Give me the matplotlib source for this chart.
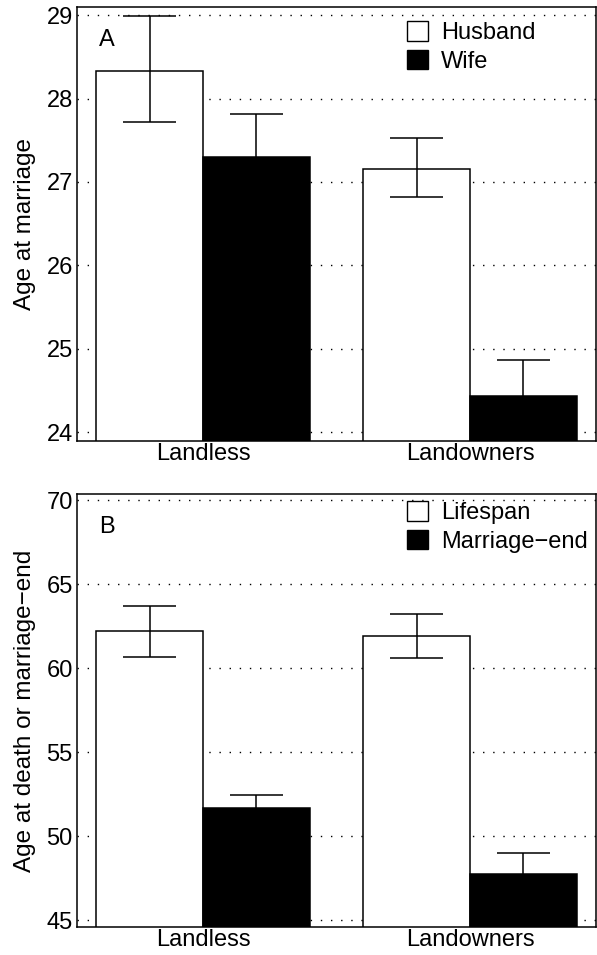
import matplotlib.pyplot as plt
from matplotlib.patches import Patch

plt.rcParams['font.family'] = ['Liberation Sans', 'DejaVu Sans']

groups = ['Landless', 'Landowners']

# panel A: age at marriage (mean, lower and upper error limits)
husband = [28.33, 27.16]
husband_lo = [27.72, 26.82]
husband_hi = [28.99, 27.53]
wife = [27.30, 24.44]
wife_lo = [26.78, 24.01]
wife_hi = [27.82, 24.87]

# panel B: age at death or marriage-end
lifespan = [62.20, 61.91]
lifespan_lo = [60.66, 60.60]
lifespan_hi = [63.72, 63.24]
mend = [51.69, 47.76]
mend_lo = [50.96, 46.55]
mend_hi = [52.42, 48.97]

ticks_a = [24, 25, 26, 27, 28, 29]
ticks_b = [45, 50, 55, 60, 65, 70]

FS = 17


def panel(ax, s1, s2, names, ylim, ticks, ylabel, letter, leg_y):
    x1 = [0.5, 3.0]
    x2 = [1.5, 4.0]
    for y in ticks:
        ax.axhline(y, color='black', lw=1.0, ls=(0, (1, 6.3)), zorder=0)
    for xs, (vals, lo, hi), fc in [(x1, s1, 'white'), (x2, s2, 'black')]:
        ax.bar(xs, vals, width=1.0, color=fc, edgecolor='black', lw=1.1, zorder=2)
        ax.vlines(xs, lo, hi, color='black', lw=1.1, zorder=3)
        ax.hlines(lo, [x - 0.25 for x in xs], [x + 0.25 for x in xs],
                  color='black', lw=1.1, zorder=3)
        ax.hlines(hi, [x - 0.25 for x in xs], [x + 0.25 for x in xs],
                  color='black', lw=1.1, zorder=3)
    ax.set_xlim(-0.18, 4.68)
    ax.set_ylim(*ylim)
    ax.set_yticks(ticks)
    ax.set_xticks([1.0, 3.5])
    ax.set_xticklabels(groups)
    ax.tick_params(length=0, labelsize=FS)
    ax.tick_params(axis='y', pad=3)
    ax.tick_params(axis='x', pad=1.5)
    for sp in ax.spines.values():
        sp.set_linewidth(1.1)
    ax.set_ylabel(ylabel, fontsize=FS + 0.5)
    ax.yaxis.set_label_coords(-0.079, 0.5)
    ax.text(0.043, 0.91, letter, transform=ax.transAxes, fontsize=FS)
    handles = [Patch(facecolor='white', edgecolor='black', lw=1.0),
               Patch(facecolor='black', edgecolor='black', lw=1.0)]
    ax.legend(handles, names, loc='upper left', bbox_to_anchor=(0.636, leg_y),
              frameon=False, fontsize=FS, borderpad=0, borderaxespad=0,
              handlelength=0.9, handleheight=0.9, handletextpad=0.55,
              labelspacing=0.23)


fig = plt.figure(figsize=(5.97, 9.55), dpi=100)
ax_a = fig.add_axes([0.129, 0.5385, 0.8693, 0.4545])
ax_b = fig.add_axes([0.129, 0.0296, 0.8693, 0.4531])

panel(ax_a, (husband, husband_lo, husband_hi), (wife, wife_lo, wife_hi),
      ['Husband', 'Wife'], (23.9, 29.1), ticks_a, 'Age at marriage', 'A', 0.966)
panel(ax_b, (lifespan, lifespan_lo, lifespan_hi), (mend, mend_lo, mend_hi),
      ['Lifespan', 'Marriage\u2212end'], (44.6, 70.36), ticks_b,
      'Age at death or marriage\u2212end', 'B', 0.983)

fig.savefig('out.png', dpi=100)
